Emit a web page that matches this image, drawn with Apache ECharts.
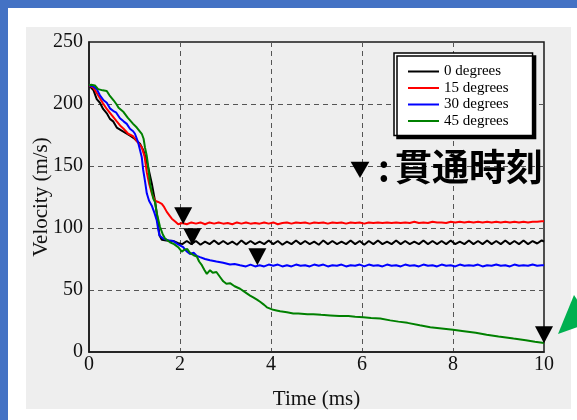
<!DOCTYPE html>
<html><head><meta charset="utf-8">
<script src="https://cdn.jsdelivr.net/npm/echarts@6/dist/echarts.min.js"></script>
<style>html,body{margin:0;padding:0;background:#fff}#c{width:577px;height:420px}</style>
</head><body><div id="c"></div>
<script>
const seriesNames = ['0 degrees', '15 degrees', '30 degrees', '45 degrees'];
const seriesColors = ['#000000', '#ff0000', '#0000ff', '#008000'];

const deg0 = [[0,215],[0.1,211],[0.17,204],[0.24,201],[0.31,196],[0.4,192],[0.46,188],[0.53,186],[0.61,181],[0.7,179],[0.83,176],[0.92,174],[1.0,172],[1.12,168],[1.19,163],[1.25,156],[1.3,149],[1.38,136],[1.45,122],[1.5,109],[1.55,94],[1.6,90.5],[1.7,90],[1.85,89.5],
[1.95,88],[2.05,87],[2.15,89.5],[2.25,87],[2.35,89.5],[2.45,86.5],[2.55,89],[2.65,87],[2.75,90],[2.85,87],[2.95,89.5],[3.05,87],[3.15,89],[3.25,86.5],[3.35,90],[3.45,87],[3.55,89.5],[3.65,87],[3.75,89],[3.85,87],[3.95,90],[4.05,87],[4.15,89.5],[4.25,86.5],[4.35,89],[4.45,87],[4.55,90],[4.65,87],[4.75,89.5],[4.85,87],[4.95,89],[5.05,86.5],[5.15,90],[5.25,87],[5.35,89.5],[5.45,87],[5.55,89],[5.65,87],[5.75,90],[5.85,87],[5.95,89.5],[6.05,86.5],[6.15,89.5],[6.25,87],[6.35,90],[6.45,87],[6.55,89],[6.65,87],[6.75,90],[6.85,87],[6.95,89.5],[7.05,87],[7.15,89],[7.25,87],[7.35,90],[7.45,87],[7.55,89.5],[7.65,87],[7.75,89.5],[7.85,87],[7.95,90],[8.05,87],[8.15,89],[8.25,87],[8.35,90],[8.45,87],[8.55,89.5],[8.65,87],[8.75,90],[8.85,87],[8.95,89.5],[9.05,87],[9.15,90],[9.25,87],[9.35,89.5],[9.45,87],[9.55,90],[9.65,87],[9.75,89.5],[9.85,87.5],[9.95,90],[10,89]];

const deg15 = [[0,215],[0.1,213],[0.2,207],[0.3,201],[0.39,196],[0.5,191],[0.61,186],[0.7,182],[0.76,180],[0.86,176],[0.97,174],[1.05,170],[1.1,168],[1.16,165],[1.22,158],[1.27,145],[1.32,136],[1.38,128],[1.45,122],[1.52,121],[1.6,119.5],[1.65,117],[1.71,113],[1.77,110],[1.82,107.5],[1.9,105],[1.96,103],
[2.05,104],[2.15,103],[2.25,104.5],[2.35,103.5],[2.45,104.5],[2.55,103],[2.65,104.5],[2.75,103.5],[2.85,104.5],[2.95,103.5],[3.05,104],[3.15,103],[3.25,104.5],[3.35,103.5],[3.45,104.5],[3.55,103.5],[3.65,104],[3.75,103.5],[3.85,104.5],[3.95,103.5],[4.05,104.5],[4.15,103],[4.25,104],[4.35,104.5],[4.45,103.5],[4.55,104.5],[4.65,104],[4.75,104.5],[4.85,103.5],[4.95,104.5],[5.05,104],[5.15,104.5],[5.25,103.5],[5.35,104.5],[5.45,104],[5.55,104.5],[5.65,103.5],[5.75,104.5],[5.85,104],[5.95,104.5],[6.05,103.5],[6.15,104.5],[6.25,104],[6.35,104.5],[6.45,104],[6.55,104.5],[6.65,104],[6.75,104.5],[6.85,104],[6.95,104.5],[7.05,104],[7.15,105],[7.25,104],[7.35,104.5],[7.45,104],[7.55,105],[7.65,104.5],[7.75,104.5],[7.85,104],[7.95,105],[8.05,104.5],[8.15,105],[8.25,104.5],[8.35,105],[8.45,104.5],[8.55,105],[8.65,104.5],[8.75,105],[8.85,104.5],[8.95,105],[9.05,104.5],[9.15,105],[9.25,104.5],[9.35,105],[9.45,104.5],[9.55,105],[9.65,104.5],[9.75,105],[9.85,105],[9.95,105.5],[10,105.5]];

const deg30 = [[0,215],[0.1,214],[0.17,212],[0.24,207],[0.32,203],[0.39,201],[0.46,196.5],[0.55,194],[0.6,193],[0.68,188.5],[0.76,186],[0.83,184],[0.9,180],[0.97,178],[1.01,176],[1.08,169],[1.12,163],[1.16,157],[1.19,147],[1.23,138],[1.27,128],[1.32,122],[1.38,118],[1.44,112],[1.49,106],[1.52,99],[1.55,94],[1.63,91.5],[1.75,90],[1.85,89.5],[1.95,87],[2.07,84.5],[2.15,81],[2.22,79],[2.3,80],[2.37,77.5],[2.44,76.5],[2.55,75],[2.66,74],[2.8,73],[2.95,72],[3.1,70.5],[3.2,71],[3.32,70],
[3.45,69],[3.55,70.5],[3.65,69],[3.75,70],[3.85,69],[3.95,70.5],[4.05,69.5],[4.15,70.5],[4.25,69],[4.35,70],[4.45,69],[4.55,70.5],[4.65,69.5],[4.75,70],[4.85,69],[4.95,70.5],[5.05,69.5],[5.15,70.5],[5.25,69],[5.35,70],[5.45,69.5],[5.55,70.5],[5.65,69],[5.75,70],[5.85,69.5],[5.95,70.5],[6.05,69],[6.15,70.5],[6.25,69.5],[6.35,70],[6.45,69],[6.55,70.5],[6.65,69.5],[6.75,70],[6.85,69],[6.95,70.5],[7.05,69.5],[7.15,70],[7.25,69],[7.35,70.5],[7.45,69.5],[7.55,70],[7.65,69],[7.75,70.5],[7.85,69.5],[7.95,70],[8.05,69],[8.15,70.5],[8.25,69.5],[8.35,70],[8.45,69.5],[8.55,70.5],[8.65,69],[8.75,70],[8.85,69.5],[8.95,70.5],[9.05,69.5],[9.15,70],[9.25,69],[9.35,70.5],[9.45,69.5],[9.55,70],[9.65,69.5],[9.75,70.5],[9.85,69.5],[9.95,70],[10,70]];

const deg45 = [[0,215],[0.05,215.5],[0.13,215],[0.2,212],[0.3,211],[0.39,210.5],[0.45,207],[0.54,203],[0.6,200],[0.65,197],[0.76,193.5],[0.85,189],[0.97,184],[1.05,181],[1.16,176],[1.2,172],[1.23,165],[1.27,158],[1.3,150],[1.34,136],[1.41,124],[1.45,121],[1.49,112],[1.56,101],[1.62,95],[1.67,91.5],[1.78,88.5],[1.87,87],[1.96,84.5],[2.04,81],[2.1,82.5],[2.16,83],[2.22,80],[2.3,78],[2.37,77],[2.42,73],[2.48,70],[2.54,66],[2.59,63],[2.66,66],[2.72,64],[2.8,64.5],[2.88,60.5],[2.95,57],[3.02,55],[3.1,55.5],[3.2,53],[3.32,51],[3.42,48.5],[3.54,45.5],[3.61,44],[3.7,42],[3.76,40.5],[3.85,38],[3.91,36],[3.98,35],[4.05,34],[4.12,33.5],[4.2,32.8],[4.35,32],[4.49,31],[4.6,31],[4.8,30.5],[4.93,30.5],[5.1,30],[5.3,29.5],[5.5,29],[5.7,29],[5.85,28.5],[6.03,28],[6.2,27.5],[6.4,27],[6.62,25.5],[6.8,24.5],[7.0,23.5],[7.27,21.5],[7.5,20],[7.75,19],[8.0,18],[8.2,17],[8.5,15.5],[8.74,14],[9.0,12.5],[9.33,10.8],[9.6,9.5],[9.8,8.3],[10,7.3]];

// penetration time markers (▼)
const markTime = [2.27, 2.07, 3.7, 10];
const markVel = [86, 103, 70, 7];

const xAxisName = 'Time (ms)';
const yAxisName = 'Velocity (m/s)';
const noteMark = '▼';
const noteColon = ':';
const noteText = '貫通時刻';

const chart = echarts.init(document.getElementById('c'));
const serif = '"Liberation Serif", "Times New Roman", serif';
const allData = [deg0, deg15, deg30, deg45];

const lineSeries = seriesNames.map((n, i) => ({
  name: n, type: 'line', data: allData[i], symbol: 'none', showSymbol: false,
  lineStyle: { color: seriesColors[i], width: 2 }, itemStyle: { color: seriesColors[i] },
  z: 3, animation: false
}));

chart.setOption({
  animation: false,
  grid: { left: 89, right: 33, top: 42, bottom: 68, show: true, borderColor: '#1a1a1a', borderWidth: 1.5, backgroundColor: 'transparent' },
  xAxis: {
    type: 'value', min: 0, max: 10, interval: 2,
    name: xAxisName, nameLocation: 'middle', nameGap: 37, nameMoveOverlap: false,
    nameTextStyle: { fontFamily: serif, fontSize: 21, color: '#111' },
    axisLine: { show: true, lineStyle: { color: '#1a1a1a', width: 1.5 } },
    axisTick: { show: false },
    axisLabel: { fontFamily: serif, fontSize: 20, color: '#111', margin: 3 },
    splitLine: { show: true, showMinLine: false, showMaxLine: false, lineStyle: { color: '#555', type: [5, 4], width: 1 } }
  },
  yAxis: {
    type: 'value', min: 0, max: 250, interval: 50,
    name: yAxisName, nameLocation: 'middle', nameGap: 37, nameMoveOverlap: false,
    nameTextStyle: { fontFamily: serif, fontSize: 21, color: '#111' },
    axisLine: { show: true, lineStyle: { color: '#1a1a1a', width: 1.5 } },
    axisTick: { show: false },
    axisLabel: { fontFamily: serif, fontSize: 20, color: '#111', margin: 6 },
    splitLine: { show: true, showMinLine: false, showMaxLine: false, lineStyle: { color: '#555', type: [5, 4], width: 1 } }
  },
  legend: {
    data: seriesNames, orient: 'vertical', left: 394, top: 53,
    padding: [11, 24, 7, 13], itemGap: 1.5, itemWidth: 31, itemHeight: 14,
    itemStyle: { opacity: 0 }, lineStyle: { width: 2 },
    backgroundColor: '#fff', borderColor: '#000', borderWidth: 1.5,
    shadowColor: '#000', shadowBlur: 0, shadowOffsetX: 3, shadowOffsetY: 3,
    textStyle: { fontFamily: serif, fontSize: 15, color: '#000' },
    selectedMode: false
  },
  graphic: [
    { type: 'rect', z: -100, silent: true, shape: { x: 0, y: 0, width: 577, height: 8 }, style: { fill: '#4472C4' } },
    { type: 'rect', z: -100, silent: true, shape: { x: 0, y: 0, width: 8, height: 420 }, style: { fill: '#4472C4' } },
    { type: 'rect', z: -99, silent: true, shape: { x: 26, y: 27, width: 545, height: 382 }, style: { fill: '#eeeeee' } },
    { type: 'polygon', z: 10, silent: true, shape: { points: [[574, 295], [558, 334], [592, 322]] }, style: { fill: '#00B050' } },
    { type: 'text', z: 10, silent: true, style: { text: noteMark, x: 350, y: 169, font: '20px "Noto Sans CJK JP"', fill: '#000', verticalAlign: 'middle', textVerticalAlign: 'middle' } },
    { type: 'text', z: 10, silent: true, style: { text: noteColon, x: 378, y: 168, font: 'bold 36px "Noto Sans CJK JP"', fill: '#000', verticalAlign: 'middle', textVerticalAlign: 'middle' } },
    { type: 'text', z: 10, silent: true, style: { text: noteText, x: 395, y: 167, font: 'bold 37px "Noto Sans CJK JP"', fill: '#000', verticalAlign: 'middle', textVerticalAlign: 'middle' } }
  ],
  series: lineSeries.concat([{
    name: 'penetration', type: 'scatter',
    data: markTime.map((t, i) => [t, markVel[i]]),
    symbol: 'path://M0,0L18,0L9,17Z', symbolSize: [18, 17], symbolOffset: [0, -8.5],
    itemStyle: { color: '#000', opacity: 1 }, z: 5, silent: true
  }])
});
</script></body></html>
